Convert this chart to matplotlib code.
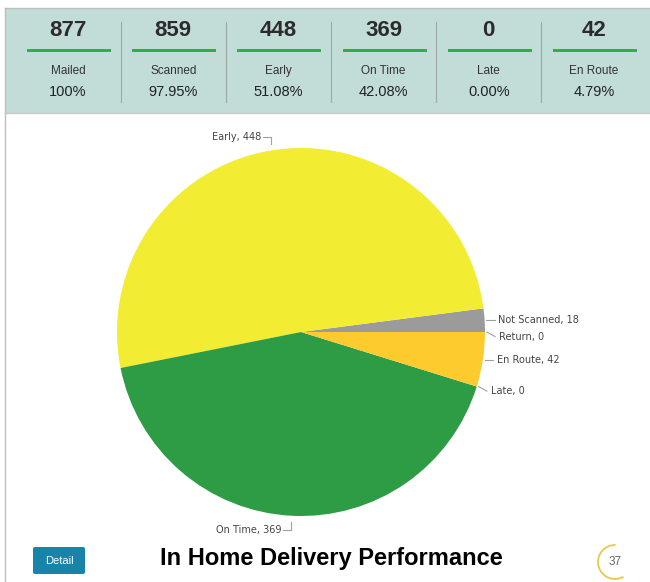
import numpy as np
import matplotlib
matplotlib.use('Agg')
import matplotlib.pyplot as plt
from matplotlib.patches import Rectangle, FancyBboxPatch, Arc

# summary panel
top_values = [877, 859, 448, 369, 0, 42]
top_labels = ['Mailed', 'Scanned', 'Early', 'On Time', 'Late', 'En Route']
top_pcts = ['100%', '97.95%', '51.08%', '42.08%', '0.00%', '4.79%']

# pie slices (counter-clockwise from 3 o'clock)
slice_labels = ['Not Scanned', 'Early', 'On Time', 'Late', 'En Route', 'Return']
slice_values = [18, 448, 369, 0, 42, 0]
slice_colors = ['#9b9b9b', '#f2ec33', '#2e9b45', '#e04a3a', '#fecb2f', '#6a8fc7']

W, H = 650, 582
fig = plt.figure(figsize=(W / 100, H / 100), dpi=100)

# background layer in pixel coordinates
bg = fig.add_axes([0, 0, 1, 1])
bg.set_xlim(0, W)
bg.set_ylim(H, 0)
bg.axis('off')

bg.add_patch(Rectangle((6, 9), W - 6, 104, facecolor='#c2dcd8', edgecolor='none'))
bg.plot([5, 5], [8, H], color='#bdbdbd', lw=1)
bg.plot([5, W], [8, 8], color='#bdbdbd', lw=1)
bg.plot([5, W], [113, 113], color='#c8c8c8', lw=1)

col_w = 105.2
for i in range(6):
    cx = 68 + col_w * i
    bg.text(cx, 31, str(top_values[i]), ha='center', va='center',
            fontsize=16, fontweight='bold', color='#2b2b2b', family='Liberation Sans')
    bg.add_patch(Rectangle((cx - 41, 48.5), 84, 3.5, facecolor='#2db04b', edgecolor='none'))
    bg.text(cx, 71, top_labels[i], ha='center', va='center',
            fontsize=8.5, color='#333333', family='Liberation Sans')
    bg.text(cx, 92, top_pcts[i], ha='center', va='center',
            fontsize=10.5, color='#222222', family='Liberation Sans')
    if i > 0:
        sx = cx - col_w / 2
        bg.plot([sx, sx], [22, 102], color='#9aa8a6', lw=0.8)

# footer
bg.add_patch(FancyBboxPatch((33, 547), 52, 27, boxstyle='round,pad=0,rounding_size=2',
                            facecolor='#1784a9', edgecolor='none'))
bg.text(59, 561, 'Detail', ha='center', va='center', fontsize=8, color='white',
        family='Liberation Sans')
bg.text(331, 558, 'In Home Delivery Performance', ha='center', va='center',
        fontsize=17, fontweight='bold', color='black', family='Liberation Sans')
bg.add_patch(Arc((615, 562), 34, 34, theta1=60, theta2=272, color='#e8c94c', lw=1.3))
bg.text(615, 562, '37', ha='center', va='center', fontsize=8.5, color='#666666',
        family='Liberation Sans')

# pie
R = 184.0
cxp, cyp = 301, 332
half = 1.25
ax = fig.add_axes([(cxp - R * half) / W, (H - cyp - R * half) / H,
                   2 * R * half / W, 2 * R * half / H])

wedges, _ = ax.pie(slice_values, colors=slice_colors, startangle=0, counterclock=True,
                   radius=1, wedgeprops=dict(linewidth=0))
ax.set_xlim(-half, half)
ax.set_ylim(-half, half)
ax.axis('off')

line_col = '#a0a0a0'
for w, lab, val in zip(wedges, slice_labels, slice_values):
    mid = np.deg2rad((w.theta1 + w.theta2) / 2.0)
    ex, ey = np.cos(mid), np.sin(mid)
    txt = '%s, %d' % (lab, val)
    if abs(ey) > 0.7:
        sgn = 1 if ey > 0 else -1
        y0 = ey + sgn * 0.035
        y1 = ey + sgn * 0.075
        ax.plot([ex, ex, ex - 0.045], [y0, y1, y1], color=line_col, lw=0.8, clip_on=False)
        ax.text(ex - 0.055, y1, txt, ha='right', va='center', fontsize=7,
                color='#444444', family='DejaVu Sans')
    else:
        ty = ey - (0.025 if val == 0 else 0.0)
        ax.plot([ex + 0.01, ex + 0.055], [ey, ty], color=line_col, lw=0.8, clip_on=False)
        ax.text(ex + 0.075, ty, txt, ha='left', va='center', fontsize=7,
                color='#444444', family='DejaVu Sans')

fig.savefig('out.png', dpi=100)
